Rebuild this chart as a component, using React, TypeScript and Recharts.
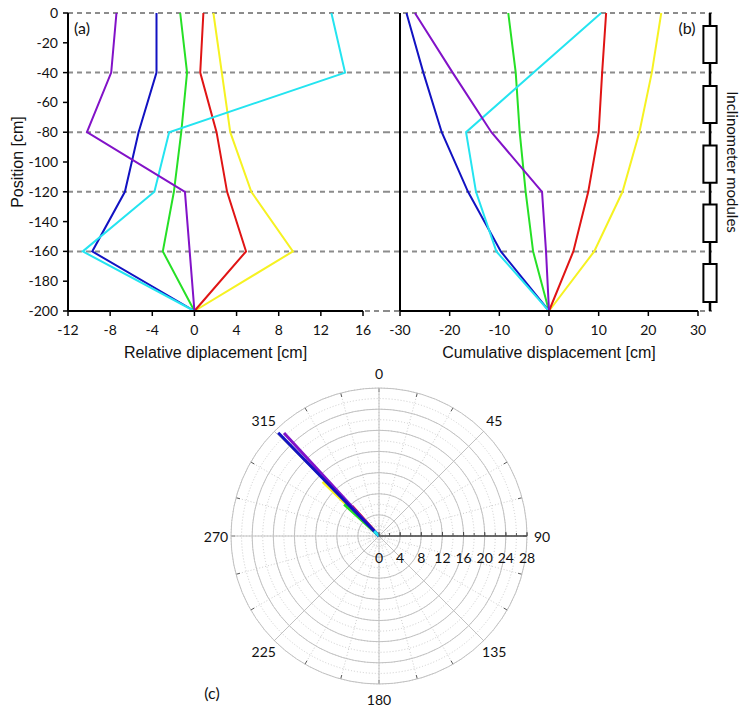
import React from 'react';
import {
  LineChart, Line, XAxis, YAxis, CartesianGrid, ReferenceLine, ReferenceArea,
  RadarChart, Radar, PolarGrid, PolarAngleAxis, PolarRadiusAxis, Label,
} from 'recharts';

// ---------- data ----------
const positions = [0, -40, -80, -120, -160, -200];
const positionTicks = [0, -20, -40, -60, -80, -100, -120, -140, -160, -180, -200];
const gridPositions = [0, -40, -80, -120, -160, -200];

const relTicks = [-12, -8, -4, 0, 4, 8, 12, 16];
const cumTicks = [-30, -20, -10, 0, 10, 20, 30];

// relative displacement [cm]
const relPurple = [-7.4, -7.9, -10.2, -0.9, -0.45, 0];
const relBlue = [-3.6, -3.6, -5.3, -6.6, -9.7, 0];
const relGreen = [-1.35, -0.7, -1.25, -1.95, -3.0, 0];
const relRed = [0.85, 0.55, 2.1, 3.1, 4.9, 0];
const relYellow = [1.8, 2.6, 3.4, 5.4, 9.35, 0];
const relCyan = [13.0, 14.3, -2.4, -3.8, -10.6, 0];

// cumulative displacement [cm]
const cumPurple = [-27.0, -19.4, -11.6, -1.4, -0.6, 0];
const cumBlue = [-28.7, -25.3, -21.6, -16.3, -9.7, 0];
const cumGreen = [-8.2, -6.7, -5.9, -4.7, -3.2, 0];
const cumRed = [11.5, 10.7, 10.0, 7.9, 4.9, 0];
const cumYellow = [22.6, 20.7, 18.2, 14.8, 9.1, 0];
const cumCyan = [10.5, -3.1, -16.7, -14.7, -10.6, 0];

// inclinometer modules (position extents, cm)
const moduleTops = [-8.7, -49, -89, -128.5, -168.5];
const moduleBottoms = [-33.6, -73.8, -114, -153.7, -194];
const rodExtent = [0, -200];

// polar plot (direction in degrees, magnitude in cm)
const polarNames = ['yellow', 'green', 'red', 'purple', 'blue', 'cyan'];
const polarAngles = [314.0, 312.4, 318.0, 317.3, 315.7, 315.0];
const polarMagnitudes = [14.8, 8.9, 7.6, 26.5, 27.3, 1.3];
const angleTicks = [0, 45, 90, 135, 180, 225, 270, 315];
const minorAngleTicks = [0, 15, 30, 45, 60, 75, 90, 105, 120, 135, 150, 165, 180, 195, 210, 225, 240, 255, 270, 285, 300, 315, 330, 345];

const COLORS: Record<string, string> = {
  purple: '#8212c8',
  blue: '#1212c2',
  green: '#26e026',
  red: '#e01414',
  yellow: '#f6f222',
  cyan: '#24e4f0',
};
const lineOrder = ['yellow', 'red', 'green', 'blue', 'cyan', 'purple'];

const makeRows = (p: number[], b: number[], g: number[], r: number[], y: number[], c: number[]) =>
  positions.map((pos, i) => ({ pos, purple: p[i], blue: b[i], green: g[i], red: r[i], yellow: y[i], cyan: c[i] }));

const relRows = makeRows(relPurple, relBlue, relGreen, relRed, relYellow, relCyan);
const cumRows = makeRows(cumPurple, cumBlue, cumGreen, cumRed, cumYellow, cumCyan);
const moduleRows = moduleTops.map((t, i) => ({ top: t, bottom: moduleBottoms[i] }));
const rodRows = rodExtent.map((pos) => ({ pos, rod: 0 }));
// rod pieces between the modules
const rodStarts = [rodExtent[0], ...moduleBottoms];
const rodEnds = [...moduleTops, rodExtent[1]];

const polarRows: any[] = [
  Object.fromEntries([['angle', 0], ...polarNames.map((n) => [n, 0])]),
  ...polarNames.map((n, i) => ({ angle: polarAngles[i], [n]: polarMagnitudes[i] })),
];

// ---------- helpers ----------
const TICK_FONT = { fontSize: 14, fontFamily: 'Lato', fill: '#111' };
const TITLE_FONT = 'Liberation Sans';

const gridLine = (extL: number, extR: number) => (p: any) => (
  <line
    key={p.key}
    x1={p.x1 - extL}
    x2={p.x2 + extR}
    y1={p.y1}
    y2={p.y2}
    stroke="#8c8c8c"
    strokeWidth={2}
    strokeDasharray="5 4"
  />
);

const xTitle = (text: string) => (props: any) => {
  const vb = props.viewBox || {};
  return (
    <text x={vb.x + vb.width / 2} y={vb.y + 41} textAnchor="middle" dominantBaseline="central"
      fontSize={16} fontFamily={TITLE_FONT} fill="#111">{text}</text>
  );
};

const yTitle = (text: string) => (props: any) => {
  const vb = props.viewBox || {};
  const cx = 17;
  const cy = vb.y + vb.height / 2;
  return (
    <text x={cx} y={cy} textAnchor="middle" dominantBaseline="central" transform={`rotate(-90, ${cx}, ${cy})`}
      fontSize={16} fontFamily={TITLE_FONT} fill="#111">{text}</text>
  );
};

const NoTick = () => <g />;

const AngleTick = (props: any) => (
  <text x={props.x} y={props.y} textAnchor="middle" dominantBaseline="central" fontSize={14} fontFamily="Lato" fill="#111">
    {props.payload.value}
  </text>
);

const RadiusTick = (props: any) => (
  <g>
    <line x1={props.x} y1={props.y} x2={props.x} y2={props.y - 4} stroke="#444" strokeWidth={1} />
    <text x={props.x} y={props.y + 21} textAnchor="middle" dominantBaseline="central" fontSize={14} fontFamily="Lato" fill="#111">
      {props.payload.value}
    </text>
  </g>
);

const MinorRadiusTick = (props: any) => (
  <line x1={props.x} y1={props.y} x2={props.x} y2={props.y - 3} stroke="#555" strokeWidth={1} />
);

const Txt = ({ x, y, size = 15, rotate = 0, family = 'Lato', children }: any) => (
  <div
    style={{
      position: 'absolute', left: x, top: y, transform: `translate(-50%, -50%) rotate(${rotate}deg)`,
      fontSize: size, fontFamily: family, color: '#111', whiteSpace: 'nowrap', lineHeight: 1,
    }}
  >
    {children}
  </div>
);

const axisLine = { stroke: '#000', strokeWidth: 2 };
const tickLine = { stroke: '#000', strokeWidth: 1.5 };

const POLAR = { width: 400, height: 373, cx: 200, cy: 186, outerRadius: 148, startAngle: 90, endAngle: -270 };

export default function App() {
  return (
    <div style={{ position: 'absolute', left: 0, top: 0, width: 751, height: 723, background: '#fff', overflow: 'hidden' }}>
      {/* panel (a) */}
      <div style={{ position: 'absolute', left: 0, top: 0 }}>
        <LineChart width={385} height={370} data={relRows} layout="vertical" margin={{ top: 13, right: 22, bottom: 0, left: 0 }}>
          <CartesianGrid vertical={false} horizontalValues={gridPositions} horizontal={gridLine(0, 22)} />
          <XAxis type="number" domain={[-12, 16]} ticks={relTicks} interval={0} height={59}
            tickSize={5} tickMargin={9} axisLine={axisLine} tickLine={tickLine} tick={TICK_FONT}>
            <Label content={xTitle('Relative diplacement [cm]')} />
          </XAxis>
          <YAxis type="number" dataKey="pos" domain={[-200, 0]} ticks={positionTicks} interval={0} reversed width={68}
            tickSize={5} tickMargin={5} axisLine={axisLine} tickLine={tickLine} tick={TICK_FONT}>
            <Label content={yTitle('Position [cm]')} />
          </YAxis>
          {lineOrder.map((k) => (
            <Line key={k} dataKey={k} type="linear" stroke={COLORS[k]} strokeWidth={2} dot={false} isAnimationActive={false} />
          ))}
        </LineChart>
      </div>

      {/* panel (b) */}
      <div style={{ position: 'absolute', left: 385, top: 0 }}>
        <LineChart width={366} height={370} data={cumRows} layout="vertical" margin={{ top: 13, right: 53, bottom: 0, left: 0 }}>
          <CartesianGrid vertical={false} horizontalValues={gridPositions} horizontal={gridLine(15, 14)} />
          <XAxis type="number" domain={[-30, 30]} ticks={cumTicks} interval={0} height={59}
            tickSize={5} tickMargin={9} axisLine={axisLine} tickLine={tickLine} tick={TICK_FONT}>
            <Label content={xTitle('Cumulative displacement [cm]')} />
          </XAxis>
          <YAxis type="number" dataKey="pos" domain={[-200, 0]} ticks={gridPositions} interval={0} reversed width={15}
            tick={NoTick} tickLine={false} axisLine={axisLine} />
          {lineOrder.map((k) => (
            <Line key={k} dataKey={k} type="linear" stroke={COLORS[k]} strokeWidth={2} dot={false} isAnimationActive={false} />
          ))}
        </LineChart>
      </div>

      {/* inclinometer module schematic */}
      <div style={{ position: 'absolute', left: 690, top: 0 }}>
        <LineChart width={40} height={370} data={rodRows} layout="vertical" margin={{ top: 13, right: 0, bottom: 59, left: 0 }}>
          <XAxis type="number" domain={[-1, 1]} height={0} hide />
          <YAxis type="number" dataKey="pos" domain={[-200, 0]} reversed width={0} hide />
          <Line dataKey="rod" stroke="none" dot={false} isAnimationActive={false} />
          {rodStarts.map((s, i) => (
            <ReferenceLine key={`rod${i}`} segment={[{ x: 0, y: s }, { x: 0, y: rodEnds[i] }]}
              stroke="#000" strokeWidth={2.5} ifOverflow="visible" />
          ))}
          {moduleRows.map((m, i) => (
            <ReferenceArea key={i} x1={-0.33} x2={0.33} y1={m.bottom} y2={m.top} fill="#fff" fillOpacity={1}
              stroke="#000" strokeWidth={2} ifOverflow="visible" />
          ))}
        </LineChart>
      </div>

      {/* panel (c) polar: minor (dotted) grid underneath */}
      <div style={{ position: 'absolute', left: 179, top: 350 }}>
        <RadarChart {...POLAR} data={polarRows} margin={{ top: 0, right: 0, bottom: 0, left: 0 }}>
          <PolarGrid gridType="circle" stroke="#cdcdcd" strokeDasharray="1 2" />
          <PolarAngleAxis type="number" dataKey="angle" domain={[0, 360]} ticks={minorAngleTicks}
            tick={false} tickLine={{ stroke: '#555' }} orientation="inner" tickSize={4} axisLine={false} />
          <PolarRadiusAxis angle={0} domain={[0, 28]} tickCount={15} tick={MinorRadiusTick} axisLine={false} />
          <Radar dataKey="blue" stroke="none" fill="none" connectNulls isAnimationActive={false} />
        </RadarChart>
      </div>

      {/* panel (c) polar: main grid, axes and series */}
      <div style={{ position: 'absolute', left: 179, top: 350 }}>
        <RadarChart {...POLAR} data={polarRows} margin={{ top: 0, right: 0, bottom: 0, left: 0 }}>
          <PolarGrid gridType="circle" stroke="#c2c2c2" />
          <PolarAngleAxis type="number" dataKey="angle" domain={[0, 360]} ticks={angleTicks}
            tick={AngleTick} tickLine={false} tickSize={15} axisLine={false} />
          <PolarRadiusAxis angle={0} domain={[0, 28]} tickCount={8} tick={RadiusTick} axisLine={{ stroke: '#444', strokeWidth: 1.5 }} />
          {polarNames.map((n) => (
            <Radar key={n} dataKey={n} stroke={COLORS[n]} strokeWidth={3} fill="none" fillOpacity={0}
              connectNulls isAnimationActive={false} />
          ))}
        </RadarChart>
      </div>

      <Txt x={82} y={28} size={16}>(a)</Txt>
      <Txt x={687} y={28} size={16}>(b)</Txt>
      <Txt x={212} y={693} size={16}>(c)</Txt>
      <Txt x={732} y={162} size={15} rotate={90}>Inclinometer modules</Txt>
    </div>
  );
}
